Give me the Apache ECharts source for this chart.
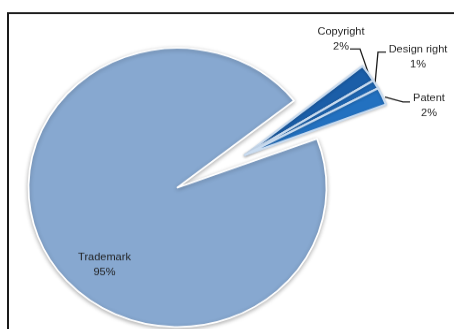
<!DOCTYPE html>
<html>
<head>
<meta charset="utf-8">
<script src="https://cdn.jsdelivr.net/npm/echarts@6/dist/echarts.min.js"></script>
<style>
html,body{margin:0;padding:0;background:#fff;overflow:hidden;}
#wrap{position:absolute;left:0;top:0;width:454px;height:329px;overflow:hidden;}
#chart{position:absolute;left:0;top:0;width:454px;height:352px;transform:scaleY(0.936);transform-origin:0 0;}
</style>
</head>
<body>
<div id="wrap"><div id="chart"></div></div>
<script>
// Data
const categories = ['Copyright', 'Design right', 'Patent', 'Trademark'];
const shares = [2, 1, 2, 95];
const colors = ['#1b5ea8', '#1e66b3', '#2371c0', '#87a8d0'];

// Label placement (chart coords, before vertical scale)
const S = 0.936;
const labelPos = {
  'Copyright':    {x: 341, y: 39.5 / S, line: [[368, 72], [360, 49], [350, 49]]},
  'Design right': {x: 418, y: 57 / S,   line: [[375, 84], [378, 52], [386, 52]]},
  'Patent':       {x: 429, y: 105.5 / S, line: [[385, 97], [403, 102], [410, 102]]},
  'Trademark':    {x: 104.5, y: 264.5 / S}
};

const chart = echarts.init(document.getElementById('chart'), null, {renderer: 'canvas'});

function layout(params) {
  const name = categories[params.dataIndex];
  const p = labelPos[name];
  const out = {x: p.x, y: p.y, align: 'center', verticalAlign: 'middle'};
  if (p.line) out.labelLinePoints = p.line.map(q => [q[0], q[1] / S]);
  return out;
}

const labelStyle = {
  formatter: '{b}\n{c}%',
  fontFamily: 'Liberation Sans, Arial, sans-serif',
  fontSize: 11,
  lineHeight: 16,
  color: '#1f1f1f'
};

chart.setOption({
  animation: false,
  backgroundColor: '#fff',
  graphic: [{
    type: 'rect',
    shape: {x: 8, y: 13 / S, width: 470, height: 400},
    style: {fill: 'none', stroke: '#1a1a1a', lineWidth: 2},
    silent: true
  }],
  series: [
    {
      type: 'pie',
      silent: true,
      center: [177.5, 187.5 / S],
      radius: [0, 149],
      startAngle: 38.5,
      clockwise: true,
      avoidLabelOverlap: false,
      label: Object.assign({position: 'inside'}, labelStyle),
      labelLine: {show: false},
      labelLayout: layout,
      emphasis: {disabled: true},
      data: categories.map((n, i) => ({
        name: n,
        value: shares[i],
        itemStyle: i < 3
          ? {color: 'rgba(0,0,0,0)', borderWidth: 0}
          : {color: colors[i], borderColor: '#ffffff', borderWidth: 1.8,
             shadowBlur: 4, shadowColor: 'rgba(0,0,0,0.28)', shadowOffsetY: 1.5},
        label: {show: i === 3}
      }))
    },
    {
      type: 'pie',
      silent: true,
      center: [245, 155 / S],
      radius: [0, 151],
      startAngle: 39,
      clockwise: true,
      avoidLabelOverlap: false,
      label: Object.assign({position: 'outside'}, labelStyle),
      labelLine: {show: true, lineStyle: {color: '#1a1a1a', width: 1.3}},
      labelLayout: layout,
      emphasis: {disabled: true},
      data: categories.map((n, i) => ({
        name: n,
        value: shares[i],
        itemStyle: i < 3
          ? {color: colors[i], borderColor: '#cadcf0', borderWidth: 2.3,
             shadowBlur: 3, shadowColor: 'rgba(0,0,0,0.2)', shadowOffsetY: 1}
          : {color: 'rgba(0,0,0,0)', borderWidth: 0},
        label: {show: i < 3},
        labelLine: {show: i < 3}
      }))
    }
  ]
});
</script>
</body>
</html>
